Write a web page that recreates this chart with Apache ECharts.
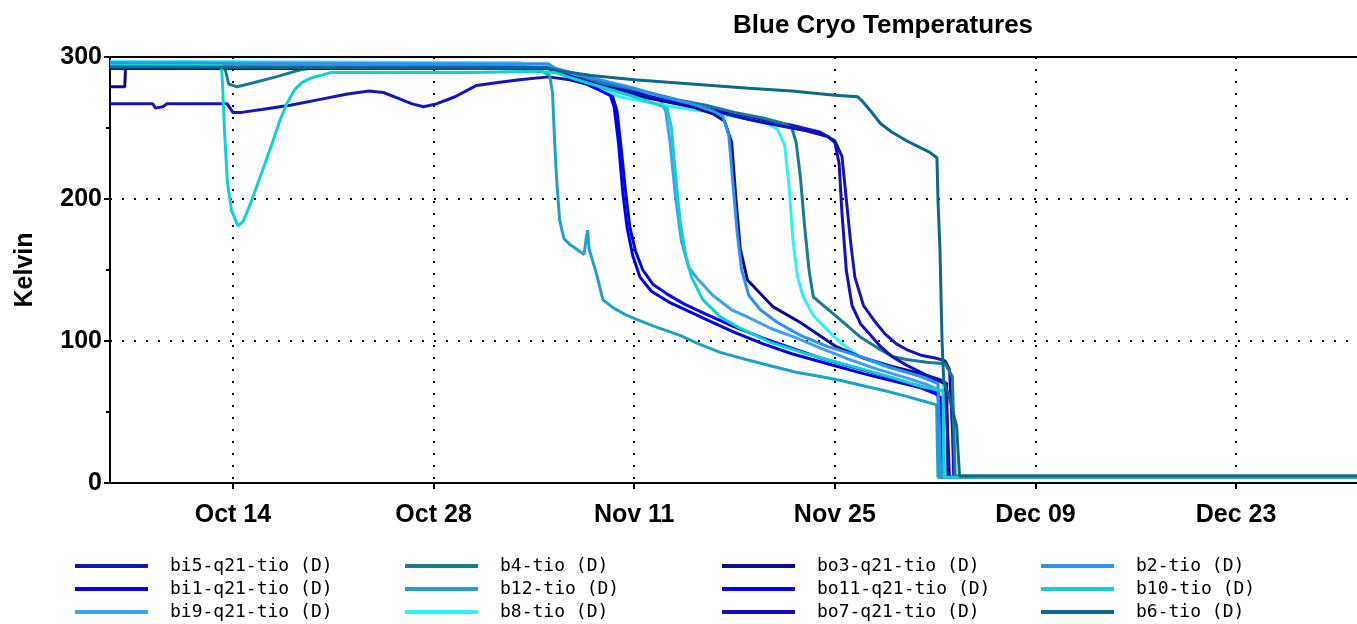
<!DOCTYPE html>
<html>
<head>
<meta charset="utf-8">
<title>Blue Cryo Temperatures</title>
<script src="https://cdn.jsdelivr.net/npm/echarts@6.0.0/dist/echarts.min.js"></script>
<style>
  html, body { margin: 0; padding: 0; background: #fff; }
  #main { width: 1357px; height: 624px; }
</style>
</head>
<body>
<div id="main"></div>
<script>
// x = days since Oct 1 (Oct 14 -> 13), y = Kelvin
const tickDays = [13, 27, 41, 55, 69, 83]
const tickLabels = ['Oct 14', 'Oct 28', 'Nov 11', 'Nov 25', 'Dec 09', 'Dec 23']

const bi5 = [[4.42,267],[7.4,267],[7.6,264],[8.1,265],[8.4,267],[12.6,267],[13.0,261],[13.6,261],[15,263],[17,266],[19,270],[21,274],[22.5,276],[23.5,275],[24.5,271],[25.5,267],[26.3,265],[27.2,267],[28.5,272],[30,280],[31.5,282],[33,284],[35,286],[36.5,284],[38,280],[40,276],[42,272],[44,268],[46,264],[48,260],[50,256],[52,252],[54,247],[55,241],[55.5,230],[55.8,200],[56.1,170],[56.4,145],[57,125],[57.7,115],[58.5,105],[59.3,98],[60,94],[61,90],[62,88],[62.7,86],[63,80],[63.2,40],[63.3,4],[91.44,4]]
const bi1 = [[4.42,292],[35,292],[35.5,290],[37,284],[38.5,278],[39.3,274],[39.6,265],[39.9,240],[40.2,205],[40.5,180],[40.9,160],[41.4,145],[42.2,135],[43.5,127],[45,120],[46.5,113],[48,106],[50,98],[52,91],[54.5,84],[57,77],[59,72],[61,67],[62,63],[62.4,60],[62.5,4],[91.44,4]]
const bi9 = [[4.42,295],[35,295],[35.5,292],[37,287],[39,281],[41,276],[42.8,270],[43.2,262],[43.5,240],[43.9,200],[44.3,170],[44.8,152],[45.4,144],[46.5,132],[47.8,122],[48.9,117],[50.5,109],[52.1,103],[54,95],[56,87],[58,80],[60,74],[61.5,69],[62.2,66],[62.3,4],[91.44,4]]
const b4 = [[4.42,294],[12.4,294],[12.7,281],[13.3,279],[14.5,282],[16,286],[17.7,291],[19,293],[35,293],[36.5,289],[38,284],[40,279],[42,275],[44,270],[46,266],[48,261],[50,257],[51.5,253],[52,250],[52.3,240],[52.6,215],[52.9,180],[53.2,150],[53.5,131],[55.15,117],[56.75,103],[58,95],[59.06,89],[60,87],[61.4,85],[62.7,84],[63.2,75],[63.4,5],[91.44,5]]
const b12 = [[4.42,295],[34,293],[35.1,287],[35.3,275],[35.45,240],[35.6,212],[35.8,185],[36.1,172],[36.5,168],[36.8,166],[37.2,163],[37.5,161],[37.65,172],[37.75,178],[37.85,165],[38.05,158],[38.35,148],[38.6,138],[38.82,129],[39.6,123],[40.5,118],[41.2,115],[42.5,110],[44.2,104],[45.5,98],[47,92],[48.8,87],[50.7,82],[52.3,78],[54,75],[55.5,72],[56.75,69],[58.5,65],[60,61],[61.4,57],[62.1,55],[62.2,4],[91.44,4]]
const b8 = [[4.42,297],[33,296],[35,293],[36.5,288],[38,280],[40,272],[41,270],[43,266],[45,263],[47,260],[49,256],[50.3,253],[51,249],[51.5,238],[51.8,210],[52.08,171],[52.4,145],[52.8,131],[53.5,118],[54.45,108],[55.5,98],[56.75,89],[58.5,82],[60.5,77],[62.55,72],[62.7,4],[91.44,4]]
const bo3 = [[4.42,279],[5.45,279],[5.5,292],[35,292],[35.5,290],[37,285],[39,278],[41,273],[43,269],[45,265],[46.5,260],[47.3,255],[47.8,240],[48.1,200],[48.4,165],[48.9,143],[50.7,124],[52.6,113],[55.1,96],[57,88],[59,82],[61,77],[62.3,73],[62.8,70],[62.9,4],[91.44,4]]
const bo11 = [[4.42,292],[35,292],[35.5,290],[37,284],[38.5,277],[39.5,272],[39.8,262],[40.1,235],[40.4,205],[40.7,180],[41.1,163],[41.6,150],[42.3,140],[43.3,133],[44.5,126],[46,119],[48,110],[50,102],[52,95],[54,88],[56.5,81],[59,74],[61,68],[62.2,63],[62.5,4],[91.44,4]]
const bo7 = [[4.42,292],[35,292],[35.5,290],[37,285],[39,279],[41,275],[43,270],[45,266],[47,261],[49,256],[51,252],[53,248],[54.5,244],[55,240],[55.3,225],[55.5,190],[55.8,150],[56.2,125],[56.8,112],[57.5,104],[58.2,96],[59,89],[60,83],[61,78],[62,73],[62.7,70],[62.9,30],[63.0,4],[91.44,4]]
const b2 = [[4.42,296],[35,295],[35.5,292],[37,288],[39,283],[41,278],[43,272],[45,267],[46.5,262],[47.2,258],[47.6,245],[47.9,210],[48.2,175],[48.5,150],[49,132],[49.8,122],[51,113],[52.6,104],[54.5,96],[56.8,89],[59,81],[61,75],[62.2,70],[62.4,4],[91.44,4]]
const b10 = [[4.42,294],[12.2,294],[12.3,275],[12.4,250],[12.6,213],[12.9,192],[13.35,181],[13.7,184],[14.2,196],[14.7,210],[15.2,224],[15.8,241],[16.3,256],[16.8,268],[17.3,277],[17.8,282],[18.4,285],[19.8,289],[25,289],[30,289],[34,290],[35.5,289],[37,284],[39,278],[41,272],[42.5,267],[43.3,264],[43.6,250],[43.9,215],[44.2,185],[44.6,160],[45,145],[45.8,129],[47,117],[48.2,110],[50.5,99],[53,91],[55.15,85],[57,80],[59.06,74],[61,68],[62.55,65],[62.6,4],[91.44,4]]
const b6 = [[4.42,293],[35,292],[36,290],[38,287],[41,284],[45,281],[49,278],[52,276],[55,273],[56.6,272],[57,268],[57.5,262],[58.2,253],[59,247],[60,241],[61,236],[61.6,233],[62.13,229],[62.2,199],[62.34,164],[62.48,101],[62.6,72],[63.0,60],[63.5,40],[63.7,5],[91.44,5]]

const seriesNames = [
  'bi5-q21-tio (D)', 'bi1-q21-tio (D)', 'bi9-q21-tio (D)',
  'b4-tio (D)', 'b12-tio (D)', 'b8-tio (D)',
  'bo3-q21-tio (D)', 'bo11-q21-tio (D)', 'bo7-q21-tio (D)',
  'b2-tio (D)', 'b10-tio (D)', 'b6-tio (D)'
]
const seriesData = [bi5, bi1, bi9, b4, b12, b8, bo3, bo11, bo7, b2, b10, b6]

const colors = [
  '#1414b8', '#0000e0', '#40a0f0',
  '#1a7a90', '#20a0c8', '#30f0f8',
  '#0a0a90', '#0000f8', '#1010c0',
  '#3090f0', '#10d0d0', '#106888'
]
const legendLeft = [75, 405, 722, 1041]

const chart = echarts.init(document.getElementById('main'))

const axisFont = { fontFamily: 'Liberation Sans, Arial, sans-serif', fontWeight: 'bold', fontSize: 25, color: '#000' }
const dotted = { color: '#000', width: 2, type: [2, 10] }

const option = {
  animation: false,
  color: colors,
  title: {
    text: 'Blue Cryo Temperatures',
    left: 728,
    top: 8,
    textStyle: { fontFamily: 'Liberation Sans, Arial, sans-serif', fontWeight: 'bold', fontSize: 26, color: '#000' }
  },
  grid: { left: 110, top: 57, right: 0, bottom: 141 },
  xAxis: [
    {
      type: 'value',
      min: 4.42,
      max: 91.44,
      axisLine: { lineStyle: { color: '#000', width: 2 } },
      axisTick: { customValues: tickDays, length: 6, lineStyle: { color: '#000', width: 2 } },
      axisLabel: {
        customValues: tickDays,
        margin: 20,
        formatter: (v) => tickLabels[tickDays.indexOf(Math.round(v))] || '',
        ...axisFont
      },
      splitLine: { show: true, lineStyle: dotted }
    },
    {
      type: 'value',
      position: 'top',
      min: 4.42,
      max: 91.44,
      axisLine: { show: true, lineStyle: { color: '#000', width: 2 } },
      axisTick: { show: false },
      axisLabel: { show: false },
      splitLine: { show: false }
    }
  ],
  yAxis: {
    type: 'value',
    min: 0,
    max: 300,
    interval: 100,
    name: 'Kelvin',
    nameLocation: 'middle',
    nameGap: 72,
    nameTextStyle: axisFont,
    axisLine: { show: true, lineStyle: { color: '#000', width: 2 } },
    axisTick: { show: true, length: 6, lineStyle: { color: '#000', width: 2 } },
    minorTick: { show: true, splitNumber: 2, length: 4, lineStyle: { color: '#000', width: 2 } },
    axisLabel: { margin: 8, ...axisFont },
    splitLine: { show: true, lineStyle: dotted }
  },
  legend: legendLeft.map((left, i) => ({
    data: seriesNames.slice(i * 3, i * 3 + 3),
    orient: 'vertical',
    left: left,
    top: 556,
    padding: 0,
    height: 68,
    icon: 'rect',
    itemWidth: 73,
    itemHeight: 4,
    itemGap: 3,
    selectedMode: false,
    textStyle: {
      fontFamily: 'DejaVu Sans Mono, monospace',
      fontSize: 18,
      lineHeight: 20,
      color: '#000',
      padding: [0, 0, 0, 17]
    }
  })),
  series: seriesNames.map((name, i) => ({
    name: name,
    type: 'line',
    data: seriesData[i],
    showSymbol: false,
    lineStyle: { width: 3, color: colors[i] },
    itemStyle: { color: colors[i] }
  }))
}

chart.setOption(option)
</script>
</body>
</html>
